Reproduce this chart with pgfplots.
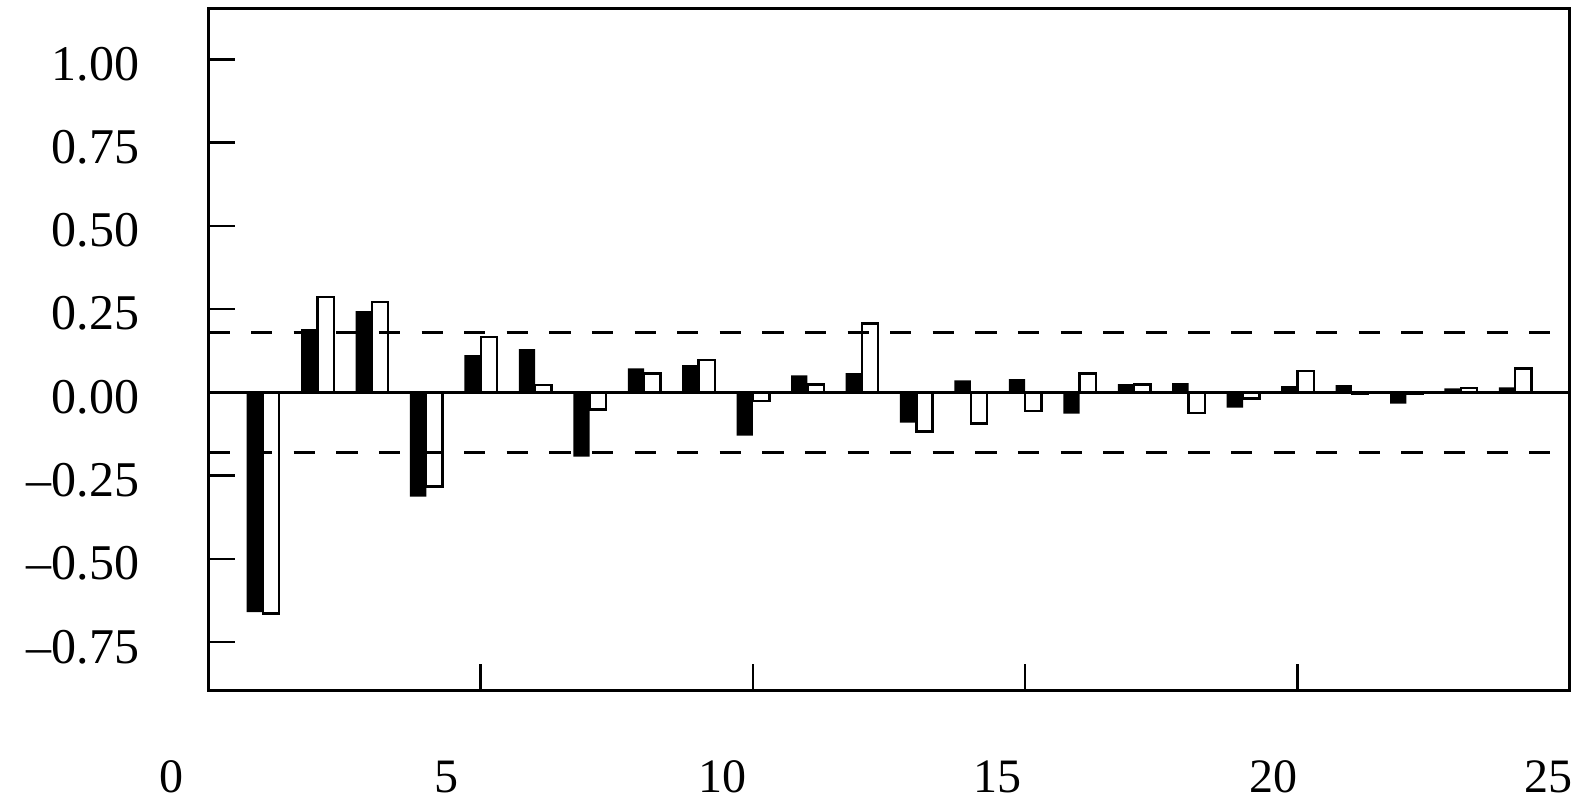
\documentclass[border=0pt]{standalone}
\usepackage{fontspec}
\setmainfont{Liberation Serif}
\usepackage{pgfplots}
\pgfplotsset{compat=1.18}
\usepackage{pgfplotstable}

\pgfplotstableread{
k   b       w
1  -0.660  -0.664
2   0.190   0.286
3   0.244   0.271
4  -0.313  -0.283
5   0.112   0.166
6   0.130   0.022
7  -0.193  -0.051
8   0.072   0.057
9   0.082   0.097
10 -0.130  -0.026
11  0.051   0.024
12  0.058   0.207
13 -0.091  -0.117
14  0.036  -0.093
15  0.040  -0.056
16 -0.064   0.057
17  0.025   0.024
18  0.028  -0.062
19 -0.046  -0.018
20  0.019   0.064
21  0.022  -0.005
22 -0.034  -0.003
23  0.012   0.013
24  0.015   0.072
}\acfdata

\begin{document}
\begin{tikzpicture}
\begin{axis}[
  at={(0,0)}, anchor=south west,
  scale only axis,
  width=680.6bp, height=341.2bp,
  xmin=0, xmax=25,
  ymin=-0.8955, ymax=1.153,
  xtick={5,10,15,20},
  xticklabels={},
  ytick={-0.75,-0.5,-0.25,0,0.25,0.5,0.75,1},
  yticklabels={–0.75,–0.50,–0.25,0.00,0.25,0.50,0.75,1.00},
  yticklabel style={font=\fontsize{25bp}{30bp}\selectfont, anchor=east, inner sep=0pt, xshift=-34.5bp, yshift=-2.25bp},
  xtick pos=lower, ytick pos=left,
  tick align=inside,
  major tick length=13.4bp,
  every tick/.style={black, line width=1.25bp},
  axis line style={line width=1.5bp},
  clip=false,
]
\addplot[ybar, bar width=0.3, bar shift=-0.15, fill=black, draw=none] table[x=k, y=b] {\acfdata};
\addplot[ybar, bar width=0.3, bar shift=0.15, fill=white, draw=black, line width=1.2bp] table[x=k, y=w] {\acfdata};
\addplot[black, line width=1.3bp, no marks] coordinates {(0,0) (25,0)};
\addplot[black, line width=1.3bp, no marks, dash pattern=on 10.65bp off 10.65bp] coordinates {(0,0.18) (25,0.18)};
\addplot[black, line width=1.3bp, no marks, dash pattern=on 10.65bp off 10.65bp] coordinates {(0,-0.18) (25,-0.18)};
\end{axis}
\begin{axis}[
  at={(-18.45bp,0)}, anchor=south west,
  scale only axis,
  width=688.4bp, height=341.2bp,
  xmin=0, xmax=25, ymin=0, ymax=1,
  hide y axis,
  axis line style={draw=none},
  xtick={0,5,10,15,20,25},
  xticklabels={0,5,10,15,20,25},
  xtick style={draw=none},
  major tick length=0pt,
  xticklabel style={font=\fontsize{24bp}{29bp}\selectfont, anchor=center, yshift=-43.15bp},
]
\end{axis}
\pgfresetboundingbox
\path[use as bounding box] (-104.25bp,-57.15bp) rectangle (683.75bp,345.35bp);
\end{tikzpicture}
\end{document}
